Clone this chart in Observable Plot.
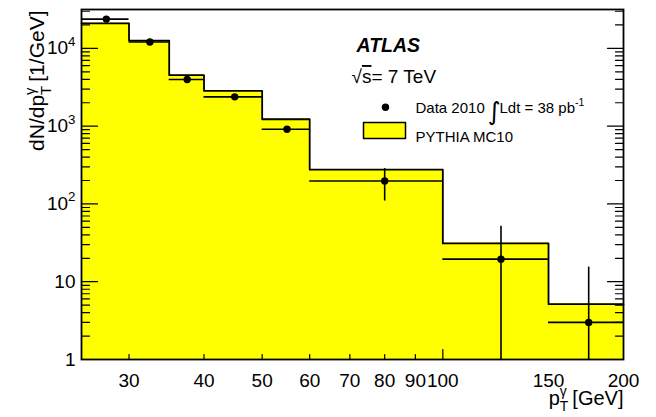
<!DOCTYPE html>
<html><head><meta charset="utf-8">
<script src="https://cdn.jsdelivr.net/npm/d3@7"></script>
<script src="https://cdn.jsdelivr.net/npm/@observablehq/plot@0.6"></script>
<style>
html,body{margin:0;padding:0;background:#fff;}
#chart svg{display:block;}
</style>
</head><body><div id="chart"></div>
<script>
// ---- data ----
const binLo = [25, 30, 35, 40, 50, 60, 100, 150];
const binHi = [30, 35, 40, 50, 60, 100, 150, 200];
const mcValues = [21000, 12600, 4520, 2840, 1227, 276, 31.1, 5.15];
const dataX = [27.5, 32.5, 37.5, 45, 55, 80, 125, 175];
const dataValues = [23800, 12100, 3980, 2380, 912, 197, 19.5, 3.0];
const dataErrors = [150, 110, 63, 49, 30, 88, 32, 12.4];
const xTicks = [30, 40, 50, 60, 70, 80, 90, 100, 150, 200];
const xTickLabels = ["30", "40", "50", "60", "70", "80", "90", "100", "150", "200"];
const xSmallTicks = [30, 40, 50, 60, 70, 80, 90];
const xDecadeTicks = [100];
const yTicks = [1, 10, 100, 1000, 10000];
const yTickLabels = ["1", "10", "10^{2}", "10^{3}", "10^{4}"];
const yDomain = [1, 31600];
const xDomain = [25, 200];

const yMinor = [];
for (const d of [1, 10, 100, 1000, 10000]) for (let k = 2; k <= 9; k++) if (d * k < yDomain[1]) yMinor.push(d * k);

const bins = d3.range(binLo.length);
const stepPts = bins.map(i => ({x: binLo[i], y: mcValues[i]}));
stepPts.push({x: binHi[binHi.length - 1], y: mcValues[mcValues.length - 1]});

const tickShape = {draw(c, l) { c.moveTo(0, 0); c.lineTo(0, -l); }};
const boxShape = {draw(c) { c.rect(-21, -8, 42, 16); }};

const font = "'Liberation Sans', Arial, Helvetica, sans-serif";

const plot = Plot.plot({
  width: 656, height: 417,
  marginLeft: 81, marginRight: 33, marginTop: 9, marginBottom: 58,
  style: {fontFamily: font, fontSize: "19px", background: "#fff", color: "#000", overflow: "visible"},
  x: {type: "log", domain: xDomain},
  y: {type: "log", domain: yDomain},
  marks: [
    // MC histogram fill + outline
    Plot.rect(bins, {x1: i => binLo[i], x2: i => binHi[i], y1: yDomain[0], y2: i => mcValues[i], fill: "#ffff00", stroke: "#ffff00", strokeWidth: 0.8, shapeRendering: "crispEdges"}),
    Plot.line(stepPts, {x: "x", y: "y", curve: "step-after", stroke: "#000", strokeWidth: 1.8}),
    // data with errors
    Plot.ruleY(bins, {y: i => dataValues[i], x1: i => binLo[i], x2: i => binHi[i], stroke: "#000", strokeWidth: 1.6}),
    Plot.ruleX(bins, {x: i => dataX[i], y1: i => Math.max(dataValues[i] - dataErrors[i], yDomain[0]), y2: i => dataValues[i] + dataErrors[i], stroke: "#000", strokeWidth: 1.6}),
    Plot.dot(bins, {x: i => dataX[i], y: i => dataValues[i], r: 3.7, fill: "#000", stroke: "none"}),
    // inward ticks (ROOT style)
    Plot.vector(yTicks, {y: d => d, frameAnchor: "left", rotate: 90, length: 16, anchor: "start", shape: tickShape, stroke: "#000", strokeWidth: 1.2}),
    Plot.vector(yMinor, {y: d => d, frameAnchor: "left", rotate: 90, length: 8, anchor: "start", shape: tickShape, stroke: "#000", strokeWidth: 1.2}),
    Plot.vector(yTicks, {y: d => d, frameAnchor: "right", rotate: -90, length: 16, anchor: "start", shape: tickShape, stroke: "#000", strokeWidth: 1.2}),
    Plot.vector(yMinor, {y: d => d, frameAnchor: "right", rotate: -90, length: 8, anchor: "start", shape: tickShape, stroke: "#000", strokeWidth: 1.2}),
    Plot.vector(xSmallTicks, {x: d => d, frameAnchor: "bottom", rotate: 0, length: 5, anchor: "start", shape: tickShape, stroke: "#000", strokeWidth: 1.2}),
    Plot.vector(xDecadeTicks, {x: d => d, frameAnchor: "bottom", rotate: 0, length: 10, anchor: "start", shape: tickShape, stroke: "#000", strokeWidth: 1.2}),
    Plot.frame({stroke: "#000", strokeWidth: 1.8}),
    // axes labels
    Plot.axisX({ticks: xTicks, tickSize: 0, tickPadding: 14, tickFormat: d => xTickLabels[xTicks.indexOf(d)], label: null}),
    Plot.axisY({ticks: yTicks, tickSize: 0, tickPadding: 6, tickFormat: d => yTickLabels[yTicks.indexOf(d)], label: null}),
    // axis titles
    Plot.text(["dN/dp_{T}^{γ} [1/GeV]"], {text: d => d, frameAnchor: "top-left", dx: -52, dy: 1, rotate: -90, textAnchor: "end", fontSize: 21}),
    Plot.text(["p_{T}^{γ} [GeV]"], {text: d => d, frameAnchor: "bottom-right", dx: 0, dy: 45, textAnchor: "end", fontSize: 20}),
    // legend / labels
    Plot.text(["ATLAS"], {text: d => d, frameAnchor: "top-left", dx: 275, dy: 29, textAnchor: "start", fontSize: 19.5, fontWeight: "bold", fontStyle: "italic"}),
    Plot.text(["√~{s}= 7 TeV"], {text: d => d, frameAnchor: "top-left", dx: 270, dy: 60, textAnchor: "start", fontSize: 19}),
    Plot.dot([0], {frameAnchor: "top-left", dx: 304, dy: 97.7, r: 3.7, fill: "#000", stroke: "none"}),
    Plot.text(["Data 2010"], {text: d => d, frameAnchor: "top-left", dx: 334, dy: 92.5, textAnchor: "start", fontSize: 15}),
    Plot.text(["∫"], {text: d => d, frameAnchor: "top-left", dx: 406, dy: 93, textAnchor: "start", fontSize: 25, fontFamily: "'DejaVu Sans', sans-serif"}),
    Plot.text(["Ldt = 38 pb^{-1}"], {text: d => d, frameAnchor: "top-left", dx: 418, dy: 92.5, textAnchor: "start", fontSize: 15}),
    Plot.vector([0], {frameAnchor: "top-left", dx: 303, dy: 121, length: 16, anchor: "start", shape: boxShape, fill: "#ffff00", stroke: "#000", strokeWidth: 1.5}),
    Plot.text(["PYTHIA MC10"], {text: d => d, frameAnchor: "top-left", dx: 334, dy: 122, textAnchor: "start", fontSize: 15})
  ]
});

document.getElementById("chart").appendChild(plot);

// rich text: ^{..} superscript, _{..} subscript (stacked when adjacent), ~{..} overline
function richify(svg) {
  svg.querySelectorAll("text").forEach(t => {
    const s = t.textContent;
    if (!/[\^_~]\{/.test(s)) return;
    const fs = parseFloat(getComputedStyle(t).fontSize) || 18;
    while (t.firstChild) t.removeChild(t.firstChild);
    const parts = s.split(/(\^\{[^}]*\}|_\{[^}]*\}|~\{[^}]*\})/).filter(p => p !== "");
    let offset = 0;
    let prev = null, prevType = null;
    for (const p of parts) {
      const ts = document.createElementNS("http://www.w3.org/2000/svg", "tspan");
      let type = "plain", txt = p, target = 0;
      if (p.startsWith("^{")) { type = "sup"; txt = p.slice(2, -1); target = -0.45 * fs; }
      else if (p.startsWith("_{")) { type = "sub"; txt = p.slice(2, -1); target = 0.3 * fs; }
      else if (p.startsWith("~{")) { type = "over"; txt = p.slice(2, -1); ts.setAttribute("text-decoration", "overline"); }
      ts.textContent = txt;
      if (type === "sup" || type === "sub") ts.setAttribute("font-size", (0.7 * fs).toFixed(1));
      ts.setAttribute("dy", (target - offset).toFixed(2));
      offset = target;
      t.appendChild(ts);
      if (prev && (prevType === "sup" || prevType === "sub") && (type === "sup" || type === "sub")) {
        const w = prev.getComputedTextLength();
        ts.setAttribute("dx", (-w).toFixed(2));
      }
      prev = ts; prevType = type;
    }
  });
}
richify(plot);
</script>
</body></html>
